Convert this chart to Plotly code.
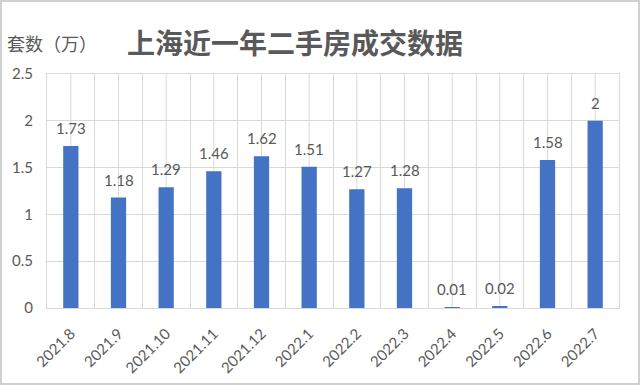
import plotly.graph_objects as go

categories = ["2021.8", "2021.9", "2021.10", "2021.11", "2021.12", "2022.1",
              "2022.2", "2022.3", "2022.4", "2022.5", "2022.6", "2022.7"]
values = [1.73, 1.18, 1.29, 1.46, 1.62, 1.51, 1.27, 1.28, 0.01, 0.02, 1.58, 2]
value_labels = ["1.73", "1.18", "1.29", "1.46", "1.62", "1.51", "1.27", "1.28",
                "0.01", "0.02", "1.58", "2"]
y_ticks = [0, 0.5, 1, 1.5, 2, 2.5]
title_text = "上海近一年二手房成交数据"
unit_text = "套数（万）"

W, H = 640, 385
ML, MR, MT, MB = 47, 21, 74, 77
PW, PH = W - ML - MR, H - MT - MB


def px_x(x):
    return (x - ML) / PW


def px_y(y):
    return (H - MB - y) / PH


GRAY = "#595959"
GRID = "#d9d9d9"
NUM_FONT = "Lato, 'Noto Sans', sans-serif"
CJK_FONT = "'Noto Sans CJK SC', sans-serif"

fig = go.Figure()
fig.add_trace(go.Bar(
    x=categories, y=values,
    marker=dict(color="#4472C4", line=dict(width=0)),
    width=0.32,
    hoverinfo="x+y",
))

annotations = []
for i, (v, lab) in enumerate(zip(values, value_labels)):
    annotations.append(dict(
        x=i, y=v, xref="x", yref="y", text=lab, showarrow=False,
        yshift=18, font=dict(family=NUM_FONT, size=15, color=GRAY),
    ))
annotations.append(dict(
    x=px_x(125), y=px_y(42), xref="paper", yref="paper", xanchor="left", yanchor="middle",
    text=title_text, showarrow=False,
    font=dict(family=CJK_FONT, size=28, color=GRAY, weight="bold"),
))
annotations.append(dict(
    x=px_x(5), y=px_y(43), xref="paper", yref="paper", xanchor="left", yanchor="middle",
    text=unit_text, showarrow=False,
    font=dict(family=CJK_FONT, size=18, color=GRAY),
))

shapes = []
# vertical grid lines at category centres
for i in range(len(categories)):
    shapes.append(dict(type="line", xref="x", yref="paper", x0=i, x1=i, y0=0, y1=1,
                       line=dict(color=GRID, width=1), layer="below"))
# outer border
shapes.append(dict(type="rect", xref="paper", yref="paper",
                   x0=px_x(1), x1=px_x(W - 1), y0=px_y(H - 1), y1=px_y(1),
                   line=dict(color="#d0d0d0", width=2)))

fig.update_layout(
    width=W, height=H,
    margin=dict(l=ML, r=MR, t=MT, b=MB, autoexpand=False),
    paper_bgcolor="white", plot_bgcolor="white",
    showlegend=False,
    annotations=annotations,
    shapes=shapes,
    xaxis=dict(
        type="category", tickson="boundaries", showgrid=True, gridcolor=GRID, gridwidth=1,
        tickangle=-45, ticks="", tickfont=dict(family=NUM_FONT, size=15, color=GRAY),
        showline=True, linecolor=GRID, linewidth=1, mirror=True, automargin=False,
        range=[-0.5, len(categories) - 0.5], ticklabelstandoff=10,
    ),
    yaxis=dict(
        range=[0, 2.5], tickvals=y_ticks, showgrid=True, gridcolor=GRID, gridwidth=1,
        zeroline=False, ticks="", tickfont=dict(family=NUM_FONT, size=15, color=GRAY),
        showline=True, linecolor=GRID, linewidth=1, mirror=True, automargin=False,
        ticklabelstandoff=10,
    ),
)

fig.write_html("out.html", config={"displayModeBar": False},
               post_script="document.body.style.margin='0';")
